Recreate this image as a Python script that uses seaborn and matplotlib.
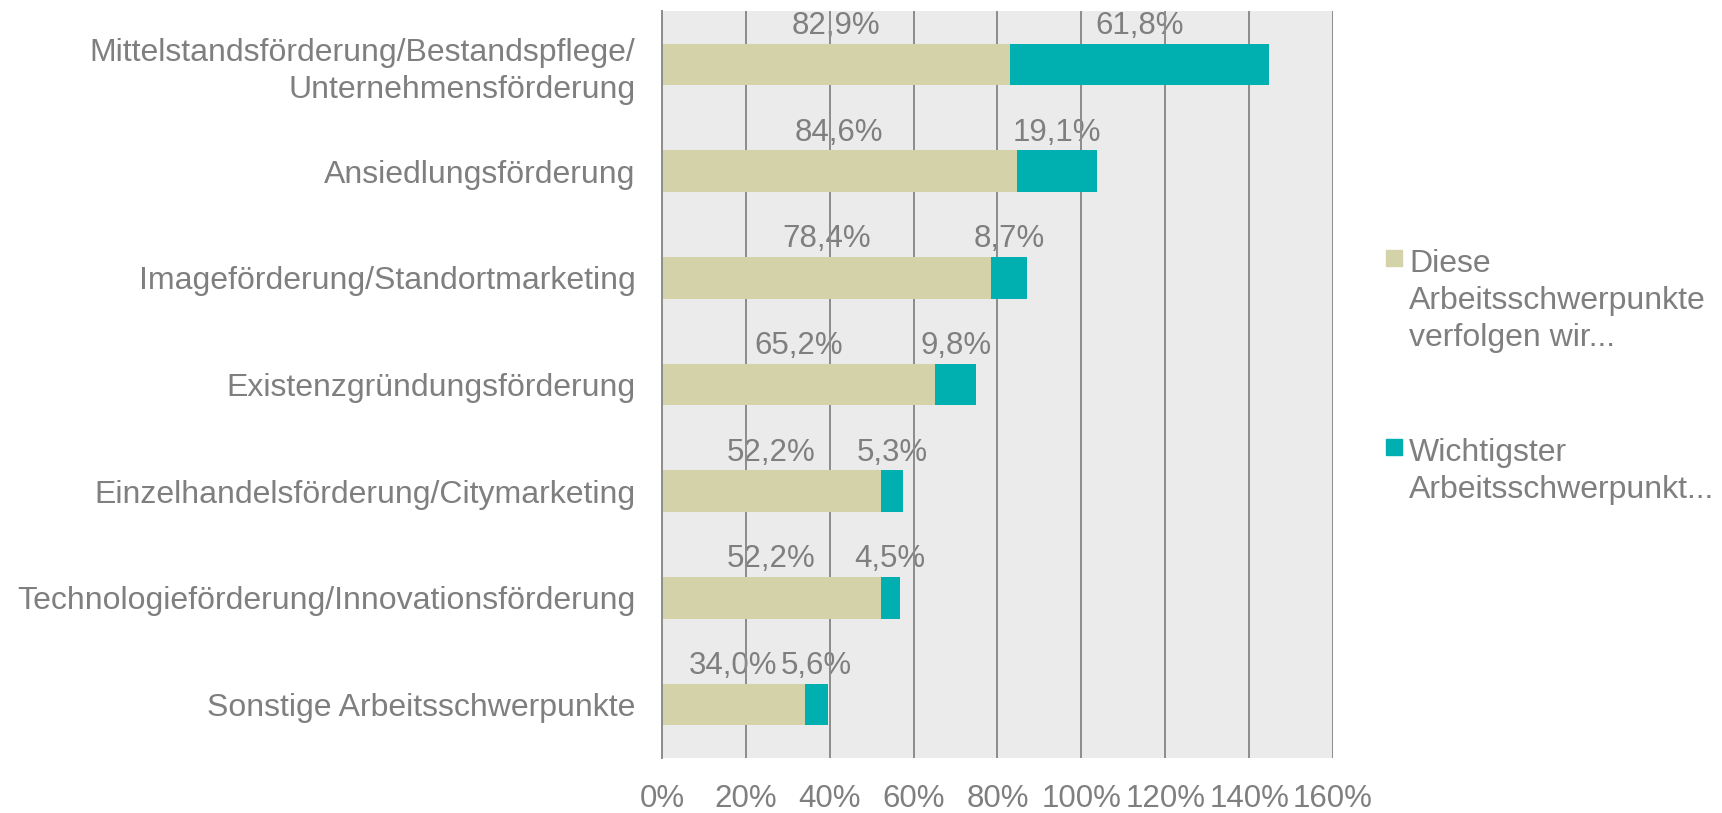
import numpy as np
import pandas as pd
import matplotlib
matplotlib.use("Agg")
import matplotlib.pyplot as plt
import seaborn as sns
from matplotlib.patches import Rectangle

# Data
categories = [
    "Mittelstandsförderung/Bestandspflege/\nUnternehmensförderung",
    "Ansiedlungsförderung",
    "Imageförderung/Standortmarketing",
    "Existenzgründungsförderung",
    "Einzelhandelsförderung/Citymarketing",
    "Technologieförderung/Innovationsförderung",
    "Sonstige Arbeitsschwerpunkte",
]
verfolgen = [82.9, 84.6, 78.4, 65.2, 52.2, 52.2, 34.0]
wichtigster = [61.8, 19.1, 8.7, 9.8, 5.3, 4.5, 5.6]
series_names = ["Diese\nArbeitsschwerpunkte\nverfolgen wir...",
                "Wichtigster\nArbeitsschwerpunkt..."]
x_ticks = [0, 20, 40, 60, 80, 100, 120, 140, 160]

df = pd.DataFrame({"cat": categories, "a": verfolgen, "b": wichtigster})
df["total"] = df["a"] + df["b"]

beige = "#D4D2A8"
teal = "#00B0B0"
grey_txt = "#7F7F7F"
grid_col = "#8C8C8C"

sns.set_theme(style="white")
plt.rcParams["font.family"] = ["Liberation Sans", "DejaVu Sans"]

fig = plt.figure(figsize=(17.22, 8.13), dpi=100)
ax = fig.add_axes([0.3844, 0.0677, 0.3897, 0.9188])
ax.set_facecolor("#EBEBEB")

# stacked bars: total first, then first series on top
sns.barplot(data=df, x="total", y="cat", color=teal, width=0.39, ax=ax,
            saturation=1, orient="h", linewidth=0)
sns.barplot(data=df, x="a", y="cat", color=beige, width=0.39, ax=ax,
            saturation=1, orient="h", linewidth=0)
for p in ax.patches:
    p.set_zorder(2)

ax.set_xlim(0, 160)
ax.set_ylim(6.5, -0.5)
ax.set_xlabel("")
ax.set_ylabel("")

# gridlines
for t in x_ticks[1:]:
    ax.axvline(t, color=grid_col, lw=1.4, zorder=1.5)

ax.set_xticks(x_ticks)
ax.set_xticklabels([f"{t}%" for t in x_ticks], fontsize=22.5, color=grey_txt)
ax.tick_params(axis="x", length=0, pad=19)

ax.set_yticks(range(len(categories)))
ax.set_yticklabels(categories, fontsize=23, color=grey_txt, linespacing=1.3)
ax.tick_params(axis="y", length=0, pad=19)
ax.set_yticks(np.arange(-0.5, len(categories), 1.0), minor=True)
ax.tick_params(axis="y", which="minor", length=8, width=1.4, color=grid_col,
               direction="out")

for s in ["top", "right", "bottom"]:
    ax.spines[s].set_visible(False)
ax.spines["left"].set_color(grid_col)
ax.spines["left"].set_linewidth(1.4)
ax.spines["left"].set_zorder(3)

# value labels above the bars
for i, (a, b) in enumerate(zip(verfolgen, wichtigster)):
    ax.text(a / 2, i - 0.36, f"{a:.1f}%".replace(".", ","), ha="center",
            va="center", fontsize=22.5, color=grey_txt, zorder=1)
    ax.text(a + b / 2, i - 0.36, f"{b:.1f}%".replace(".", ","), ha="center",
            va="center", fontsize=22.5, color=grey_txt, zorder=1)

# legend (markers next to first text line)
W, H = 1722, 813
legend_pos = [(1386, 250), (1386, 439)]
for (px, py), name, col in zip(legend_pos, series_names, [beige, teal]):
    fig.patches.append(Rectangle((px / W, 1 - (py + 16) / H), 16 / W, 16 / H,
                                 transform=fig.transFigure, color=col))
    fig.text((px + 23) / W, 1 - (py - 1) / H, name, ha="left", va="top",
             fontsize=23, color=grey_txt, linespacing=1.3)

fig.savefig("out.png", dpi=100)
